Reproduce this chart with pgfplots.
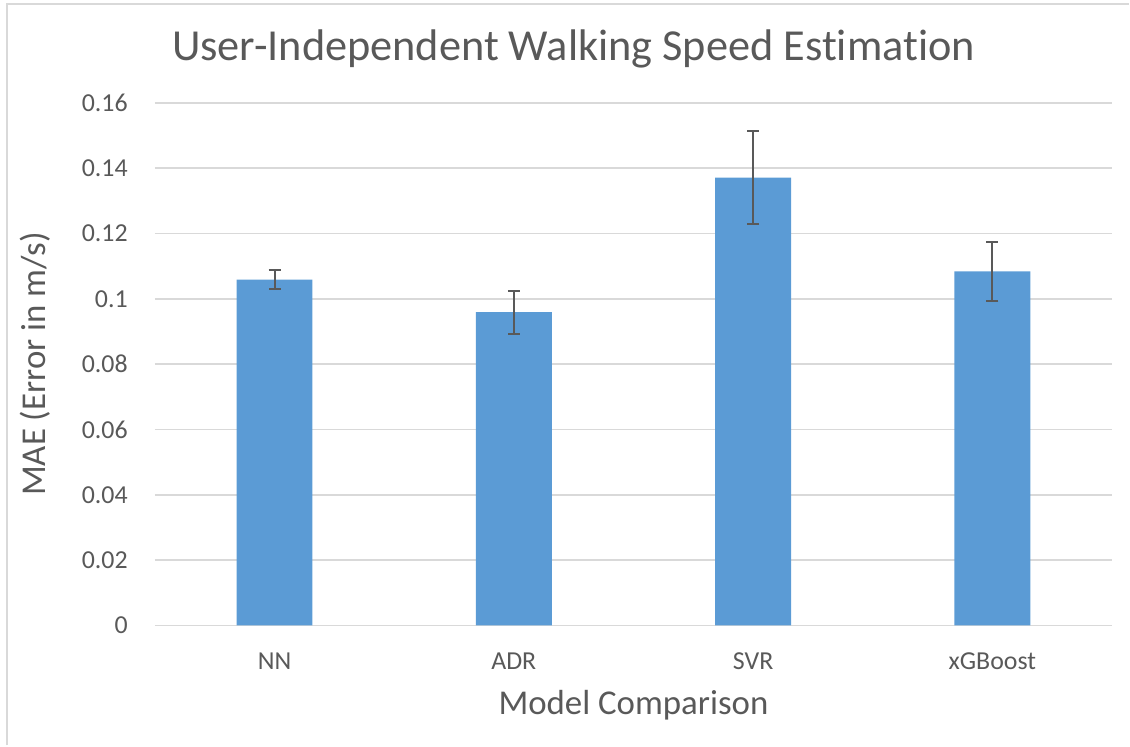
\documentclass[border=0pt]{standalone}
\usepackage{fontspec}
\setmainfont{Carlito}[Ligatures=NoCommon]
\usepackage{pgfplots}
\pgfplotsset{compat=1.18}
\definecolor{barblue}{HTML}{5B9BD5}
\definecolor{txtgray}{HTML}{595959}
\definecolor{gridgray}{HTML}{D9D9D9}

\begin{document}
\begin{tikzpicture}
% page frame, 1bp = 1px of the reference
\path (0,0) rectangle (1130bp,746bp);
\draw[gridgray, line width=2bp] (7bp,0) -- (7bp,742bp) -- (1130bp,742bp);

\begin{axis}[
    at={(155bp,120bp)}, anchor=south west,
    width=958bp, height=523bp, scale only axis,
    xmin=-0.5, xmax=3.5,
    ymin=0, ymax=0.16,
    xtick={0,1,2,3},
    xticklabels={NN,ADR,SVR,xGBoost},
    ytick={0,0.02,0.04,0.06,0.08,0.1,0.12,0.14,0.16},
    yticklabels={0,0.02,0.04,0.06,0.08,0.1,0.12,0.14,0.16},
    ymajorgrids,
    grid style={gridgray, line width=1.5bp},
    axis line style={draw=none},
    tick style={draw=none},
    xticklabel style={font=\fontsize{26}{30}\selectfont, text=txtgray, anchor=center, yshift=-36bp},
    yticklabel style={font=\fontsize{26}{30}\selectfont, text=txtgray, anchor=east, inner sep=0pt, xshift=-27bp},
    title={User-Independent Walking Speed Estimation},
    title style={font=\fontsize{44.5}{50}\selectfont, text=txtgray, at={(rel axis cs:0.5,1)}, anchor=center, yshift=48bp, xshift=-60bp},
    xlabel={Model Comparison},
    xlabel style={font=\fontsize{35}{40}\selectfont, text=txtgray, at={(rel axis cs:0.5,0)}, anchor=center, yshift=-80bp},
    ylabel={MAE (Error in m/s)},
    ylabel style={font=\fontsize{35}{40}\selectfont, text=txtgray, at={(rel axis cs:0,0.5)}, anchor=center, yshift=120bp},
    clip=false,
]
\addplot[ybar, bar width=76bp, fill=barblue, draw=none,
    error bars/.cd, y dir=both, y explicit,
    error bar style={txtgray, line width=2bp},
    error mark options={rotate=90, mark size=6bp, line width=2bp, txtgray}]
    coordinates {
    (0, 0.1059) +- (0, 0.0028)
    (1, 0.0959) +- (0, 0.0066)
    (2, 0.1371) +- (0, 0.0142)
    (3, 0.1084) +- (0, 0.0091)
};
\end{axis}
\end{tikzpicture}
\end{document}
